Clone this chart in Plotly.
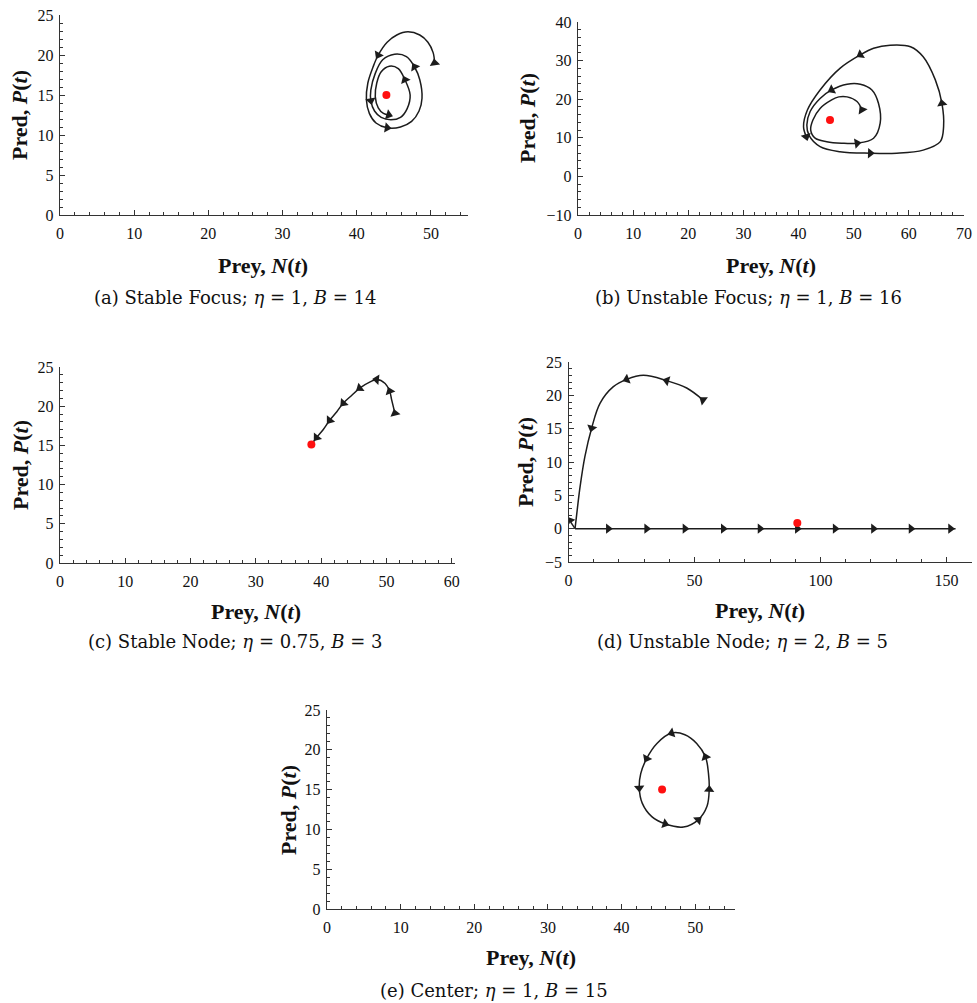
import math
import plotly.graph_objects as go

W, H = 977, 1003          # browser window = figure size

# ---------------- data ----------------
# (a) Stable Focus
a_x = [50.5, 50.3, 49.6, 48.5, 46.9, 45.4, 44.1, 42.9, 42.2, 41.5, 41.3, 41.7, 42.6, 44.1,
       45.9, 47.4, 48.4, 48.8, 48.5, 47.8, 46.7, 45.1, 43.5, 42.5, 41.9, 41.9, 42.4, 43.3,
       44.6, 45.9, 46.8, 47.2, 46.5, 45.6, 44.4, 43.3, 42.7, 42.5, 42.9, 43.6, 44.3]
a_y = [19.0, 20.3, 21.6, 22.5, 22.9, 22.5, 21.6, 20.0, 18.5, 16.5, 14.4, 12.7, 11.5, 10.9,
       11.0, 11.7, 13.0, 14.6, 16.9, 18.5, 19.8, 20.1, 19.4, 17.7, 15.6, 14.3, 13.0, 12.2,
       11.9, 12.2, 13.3, 15.0, 16.9, 18.3, 18.6, 17.9, 16.5, 14.8, 13.4, 12.7, 12.5]
a_arrows = [0, 7, 13, 19, 25, 32, 40]
a_eq = ([44.0], [15.0])

# (b) Unstable Focus
b_x = [51.5, 50.6, 48.8, 47.3, 46.0, 43.9, 42.6, 42.2, 43.0, 45.1, 47.8, 50.6, 53.6, 54.8,
       54.5, 53.3, 51.2, 48.8, 46.0, 43.9, 42.1, 41.5, 41.9, 43.9, 47.5, 53.0, 57.8, 62.6,
       65.7, 66.3, 66.0, 64.8, 62.6, 60.3, 56.6, 53.6, 51.2, 47.5, 43.9, 41.6, 40.9, 41.4]
b_y = [17.2, 19.4, 20.6, 20.6, 19.8, 17.6, 14.6, 12.0, 9.9, 9.0, 8.6, 8.6, 9.9, 13.8,
       18.9, 22.4, 23.9, 23.9, 22.4, 20.2, 16.8, 13.3, 10.6, 7.7, 6.4, 6.0, 6.0, 6.8,
       9.0, 12.9, 18.9, 25.0, 31.0, 33.6, 34.0, 33.2, 31.5, 28.0, 22.4, 17.2, 12.9, 10.3]
b_arrows = [0, 11, 18, 25, 30, 36, 41]
b_eq = ([45.7], [14.6])

# (c) Stable Node
c_x = [51.3, 50.8, 50.5, 49.8, 48.5, 47.5, 45.9, 44.7, 43.4, 42.4, 41.3, 40.3, 39.3, 38.6]
c_y = [19.1, 20.8, 21.9, 22.9, 23.4, 23.1, 22.3, 21.4, 20.4, 19.3, 18.2, 17.0, 16.0, 15.2]
c_arrows = [0, 2, 4, 6, 8, 10, 12]
c_eq = ([38.5], [15.1])

# (d) Unstable Node
d1_x = [53.4, 46.9, 39.0, 29.7, 23.1, 17.8, 12.5, 9.2, 6.5, 4.6, 3.3, 2.6]
d1_y = [19.3, 21.1, 22.2, 23.0, 22.4, 21.3, 18.8, 15.1, 10.8, 6.3, 2.3, 0.0]
d1_arrows = [0, 2, 4, 7]
d2_x = [2.6, 15.8, 31.0, 46.2, 61.4, 76.0, 90.8, 105.8, 121.0, 135.9, 151.6, 153.6]
d2_y = [0.0] * 12
d2_arrows = [1, 2, 3, 4, 5, 6, 7, 8, 9, 10]
d3_x = [2.6, 1.5, 0.5]
d3_y = [0.0, 0.6, 1.2]
d3_arrows = [2]
d_eq = ([90.8], [0.85])

# (e) Center
e_x = [48.6, 46.8, 44.8, 43.4, 42.6, 42.4, 42.8, 44.1, 45.9, 48.4, 50.4, 51.6, 51.9, 51.8,
       51.4, 50.2, 48.6]
e_y = [21.9, 22.1, 20.8, 18.9, 17.0, 15.2, 13.3, 11.6, 10.7, 10.3, 11.2, 12.9, 15.0, 17.0,
       19.1, 20.8, 21.9]
e_arrows = [1, 3, 5, 8, 10, 12, 14]
e_eq = ([45.5], [15.0])

captions = [
    "(a) Stable Focus; <i>η</i> = 1, <i>B</i> = 14",
    "(b) Unstable Focus; <i>η</i> = 1, <i>B</i> = 16",
    "(c) Stable Node; <i>η</i> = 0.75, <i>B</i> = 3",
    "(d) Unstable Node; <i>η</i> = 2, <i>B</i> = 5",
    "(e) Center; <i>η</i> = 1, <i>B</i> = 15",
]
x_title = "<b>Prey, <i>N</i>(<i>t</i>)</b>"
y_title = "<b>Pred, <i>P</i>(<i>t</i>)</b>"

# ---------------- layout (pixel boxes in window coordinates) ----------------
panels = [
    dict(px=(60, 468), py=(15, 215), xr=(0, 55), yr=(0, 25), xd=10, xm=2, yd=5, ym=1,
         cap=(235, 297), xt=(263, 265), yt=(20, 115)),
    dict(px=(578, 964), py=(22, 215), xr=(0, 70), yr=(-10, 40), xd=10, xm=2, yd=10, ym=2,
         cap=(748, 297), xt=(771, 265), yt=(527, 118)),
    dict(px=(60, 455), py=(367, 563), xr=(0, 60.5), yr=(0, 25), xd=10, xm=2, yd=5, ym=1,
         cap=(235, 641), xt=(256, 611), yt=(20, 465)),
    dict(px=(568.5, 971.7), py=(362, 562), xr=(0, 160), yr=(-5, 25), xd=50, xm=10, yd=5, ym=1,
         cap=(742, 641), xt=(760, 610), yt=(525, 462)),
    dict(px=(327, 735), py=(710, 909), xr=(0, 55.4), yr=(0, 25), xd=10, xm=2, yd=5, ym=1,
         cap=(494, 990), xt=(531, 957), yt=(288, 810)),
]


def fx(p):
    return min(max(p / W, 0.0), 1.0)


def fy(p):
    return min(max(1 - p / H, 0.0), 1.0)


INK = "#1c1c1c"
fig = go.Figure()


def scale(p):
    sx = (p["px"][1] - p["px"][0]) / (p["xr"][1] - p["xr"][0])
    sy = (p["py"][1] - p["py"][0]) / (p["yr"][1] - p["yr"][0])
    return sx, sy


def axes_of(k):
    return ("x" if k == 0 else f"x{k+1}"), ("y" if k == 0 else f"y{k+1}")


def add_curve(k, xs, ys, arrows, shape="spline"):
    p = panels[k]
    sx, sy = scale(p)
    xa, ya = axes_of(k)
    fig.add_trace(go.Scatter(x=xs, y=ys, mode="lines", xaxis=xa, yaxis=ya,
                             line=dict(color=INK, width=1.5, shape=shape, smoothing=1.0),
                             hoverinfo="skip", showlegend=False))
    ax, ay, ang = [], [], []
    n = len(xs)
    for i in arrows:
        i0 = max(i - 1, 0)
        i1 = min(i + 1, n - 1)
        dx = (xs[i1] - xs[i0]) * sx
        dy = (ys[i1] - ys[i0]) * sy
        ax.append(xs[i])
        ay.append(ys[i])
        ang.append(math.degrees(math.atan2(dx, dy)))
    fig.add_trace(go.Scatter(x=ax, y=ay, mode="markers", xaxis=xa, yaxis=ya,
                             marker=dict(symbol="triangle-up", size=9, color=INK, angle=ang,
                                         line=dict(width=0)),
                             hoverinfo="skip", showlegend=False))


def add_eq(k, pt):
    xa, ya = axes_of(k)
    fig.add_trace(go.Scatter(x=pt[0], y=pt[1], mode="markers", xaxis=xa, yaxis=ya,
                             marker=dict(color="#ff1010", size=8, line=dict(width=0)),
                             hoverinfo="skip", showlegend=False))


add_curve(0, a_x, a_y, a_arrows)
add_eq(0, a_eq)
add_curve(1, b_x, b_y, b_arrows)
add_eq(1, b_eq)
add_curve(2, c_x, c_y, c_arrows)
add_eq(2, c_eq)
add_curve(3, d1_x, d1_y, d1_arrows)
add_curve(3, d2_x, d2_y, d2_arrows, shape="linear")
add_curve(3, d3_x, d3_y, d3_arrows, shape="linear")
add_eq(3, d_eq)
add_curve(4, e_x, e_y, e_arrows)
add_eq(4, e_eq)

tickfont = dict(family="Liberation Serif", size=16, color="#111")
layout = dict(width=W, height=H, margin=dict(l=0, r=0, t=0, b=0, autoexpand=False),
              template="none",
              paper_bgcolor="white", plot_bgcolor="white", showlegend=False)
annotations = []
for k, p in enumerate(panels):
    sfx = "" if k == 0 else str(k + 1)
    common = dict(showline=True, linecolor="#333", linewidth=1.4, mirror=False,
                  ticks="inside", ticklen=5, tickwidth=1.1, tickcolor="#333",
                  showgrid=False, zeroline=False, tickfont=tickfont, fixedrange=True,
                  automargin=False, ticklabeloverflow="allow")
    layout["xaxis" + sfx] = dict(common, domain=[fx(p["px"][0]), fx(p["px"][1])],
                                 range=list(p["xr"]), dtick=p["xd"], tick0=0,
                                 anchor="y" + sfx, ticklabelstandoff=4,
                                 minor=dict(ticks="inside", ticklen=3, dtick=p["xm"], tick0=0,
                                            tickcolor="#333", tickwidth=1))
    layout["yaxis" + sfx] = dict(common, domain=[fy(p["py"][1]), fy(p["py"][0])],
                                 range=list(p["yr"]), dtick=p["yd"], tick0=0,
                                 anchor="x" + sfx, ticklabelstandoff=2,
                                 minor=dict(ticks="inside", ticklen=3, dtick=p["ym"], tick0=0,
                                            tickcolor="#333", tickwidth=1))
    annotations.append(dict(text=captions[k], x=fx(p["cap"][0]), y=fy(p["cap"][1]),
                            xref="paper", yref="paper", showarrow=False,
                            xanchor="center", yanchor="middle",
                            font=dict(family="DejaVu Serif", size=18, color="#111")))
    annotations.append(dict(text=x_title, x=fx(p["xt"][0]), y=fy(p["xt"][1]),
                            xref="paper", yref="paper", showarrow=False,
                            xanchor="center", yanchor="middle",
                            font=dict(family="Liberation Serif", size=22, color="#111")))
    annotations.append(dict(text=y_title, x=fx(p["yt"][0]), y=fy(p["yt"][1]),
                            xref="paper", yref="paper", showarrow=False, textangle=-90,
                            xanchor="center", yanchor="middle",
                            font=dict(family="Liberation Serif", size=22, color="#111")))
layout["annotations"] = annotations
fig.update_layout(**layout)
# the page's default 8px body margin would push the 977x1003 figure off the window
fig.write_html("out.html", config={"displayModeBar": False},
               post_script="document.body.style.margin='0px';")
